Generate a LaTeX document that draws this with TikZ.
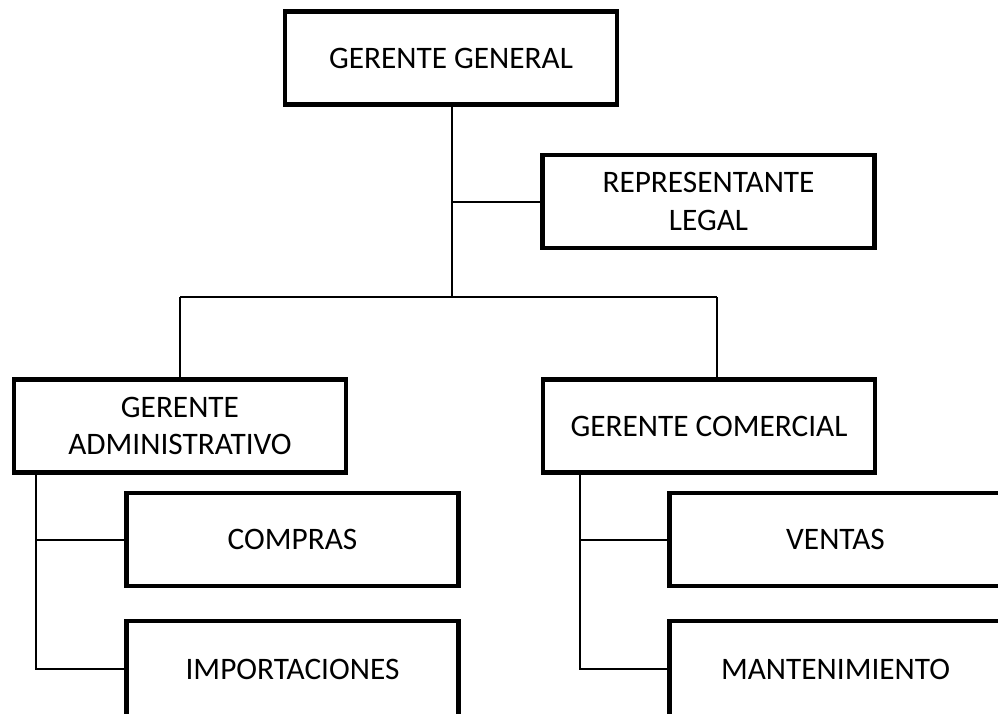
\documentclass[tikz,border=0pt]{standalone}
\usepackage{fontspec}
\setmainfont{Carlito}
\begin{document}
\begin{tikzpicture}[x=1pt,y=-1pt,
  orgbox/.style={draw=black, line width=4.5pt, fill=white, minimum width=332pt, minimum height=93pt,
    inner sep=0pt, align=center, font=\fontsize{31.3}{37.5}\selectfont},
  conn/.style={draw=black, line width=2pt}]
\useasboundingbox (0,0) rectangle (998,713);
\clip (0,0) rectangle (998,713);
% nodes
\node[orgbox] (GG) at (451,58) {GERENTE GENERAL};
\node[orgbox] (RL) at (708.5,201.5) {REPRESENTANTE\\LEGAL};
\node[orgbox] (GA) at (180,426) {GERENTE\\ADMINISTRATIVO};
\node[orgbox] (GC) at (709,426) {GERENTE COMERCIAL};
\node[orgbox] (CO) at (292.5,539.5) {COMPRAS};
\node[orgbox, minimum height=96pt] (IM) at (292.5,669) {IMPORTACIONES};
\node[orgbox] (VE) at (835.5,539.5) {VENTAS};
\node[orgbox, minimum height=96pt] (MA) at (835.5,669) {MANTENIMIENTO};
% junctions
\coordinate (j1) at (452,297);
\coordinate (bL) at (180,297);
\coordinate (bR) at (717,297);
\coordinate (ga) at (36,475);
\coordinate (gc) at (580,474);
% connectors
\draw[conn] (j1 |- GG.south) -- (j1);
\draw[conn] (j1 |- RL.west) -- (RL.west);
\draw[conn] (bL) -- (bR);
\draw[conn] (bL) -- (GA.north);
\draw[conn] (bR) -- (bR |- GC.north);
\draw[conn] (ga |- GA.south) -- (ga |- IM.west) -- (IM.west);
\draw[conn] (ga |- CO.west) -- (CO.west);
\draw[conn] (gc |- GC.south) -- (gc |- MA.west) -- (MA.west);
\draw[conn] (gc |- VE.west) -- (VE.west);
\end{tikzpicture}
\end{document}
